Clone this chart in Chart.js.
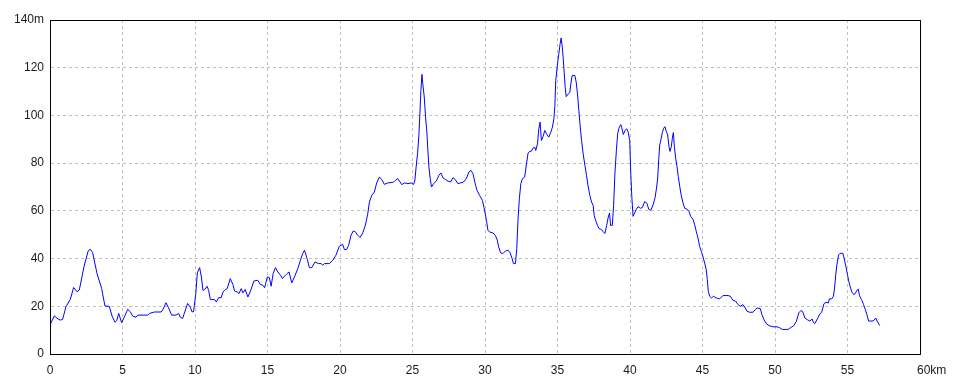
<!DOCTYPE html>
<html>
<head>
<meta charset="utf-8">
<script src="https://cdn.jsdelivr.net/npm/chart.js@4"></script>
<style>
  html, body { margin: 0; padding: 0; background: #fff; }
  #wrap { width: 960px; height: 384px; }
</style>
</head>
<body>
<div id="wrap"><canvas id="c" width="960" height="384"></canvas></div>
<script>
// Distance along the route (km)
const distanceKm = [
  0, 0.3, 0.48, 0.71, 0.87, 1.1, 1.4, 1.63, 1.86, 2.02, 2.37, 2.64, 2.78, 2.94, 3.24, 3.56, 3.79, 4.09, 4.28, 4.48,
  4.6, 4.74, 4.94, 5.13, 5.36, 5.54, 5.7, 5.93, 6.05, 6.74, 6.85, 7.2, 7.66, 7.77, 8.0, 8.16, 8.39, 8.69, 8.87, 8.99,
  9.15, 9.26, 9.49, 9.68, 9.79, 9.9,
  10.05, 10.16, 10.32, 10.44, 10.55, 10.67, 10.83, 10.94, 11.06, 11.35, 11.47, 11.63, 11.81, 11.93, 12.09, 12.22,
  12.43, 12.61, 12.73, 12.91, 13.03, 13.19, 13.3, 13.46, 13.65, 13.83, 14.06, 14.33, 14.5, 14.68, 14.8, 14.99,
  15.13, 15.25, 15.39, 15.55, 15.71, 15.9, 16.03, 16.17, 16.35, 16.49, 16.67, 16.86, 17.09, 17.27, 17.43, 17.55,
  17.73, 17.89, 18.05, 18.28, 18.51, 18.69, 18.81, 18.92, 19.27, 19.5, 19.72, 19.95,
  20.18, 20.3, 20.46, 20.6, 20.76, 20.92, 21.06, 21.22, 21.38, 21.57, 21.75, 21.91, 22.03, 22.19, 22.37, 22.53,
  22.72, 22.88, 23.06, 23.29, 23.69, 23.82, 23.99, 24.1, 24.26, 24.45, 24.68, 24.91, 25.07, 25.16, 25.25, 25.35,
  25.44, 25.51, 25.58, 25.65, 25.71, 25.81, 25.9, 25.99, 26.06, 26.13, 26.22, 26.31, 26.45, 26.64, 26.82, 26.96,
  27.1, 27.28, 27.44, 27.63, 27.79, 27.95, 28.13, 28.29, 28.53, 28.71, 28.89, 29.03, 29.17, 29.35, 29.45, 29.63,
  29.82, 29.93,
  30.02, 30.1, 30.2, 30.3, 30.55, 30.71, 30.85, 30.94, 31.08, 31.24, 31.41, 31.59, 31.73, 31.87, 31.96, 32.1,
  32.19, 32.28, 32.37, 32.47, 32.58, 32.74, 32.86, 32.97, 33.09, 33.2, 33.32, 33.43, 33.5, 33.62, 33.71, 33.8,
  33.89, 34.01, 34.12, 34.24, 34.4, 34.54, 34.65, 34.75, 34.82, 34.88, 35.0, 35.09, 35.18, 35.25, 35.32, 35.39,
  35.46, 35.53, 35.6, 35.74, 35.85, 35.92, 36.01, 36.2, 36.29, 36.38, 36.47, 36.57, 36.66, 36.77, 36.89, 37.0,
  37.12, 37.23, 37.35, 37.46, 37.53, 37.63, 37.76, 37.86, 38.04, 38.16, 38.27, 38.39, 38.5, 38.59, 38.66, 38.78,
  38.87, 38.96, 39.06, 39.15, 39.24, 39.36, 39.42, 39.54, 39.65, 39.77, 39.88, 39.98,
  40.05, 40.12, 40.21, 40.32, 40.44, 40.55, 40.71, 40.85, 41.01, 41.17, 41.29, 41.43, 41.59, 41.72, 41.82, 41.91,
  41.98, 42.05, 42.14, 42.23, 42.32, 42.41, 42.51, 42.6, 42.69, 42.76, 42.85, 42.92, 42.99, 43.06, 43.15, 43.24,
  43.33, 43.43, 43.54, 43.66, 43.77, 43.93, 44.07, 44.18, 44.34, 44.46, 44.57, 44.69, 44.8, 44.92, 45.03, 45.15,
  45.26, 45.33, 45.4, 45.49, 45.61, 45.77, 45.95, 46.18, 46.41, 46.76, 46.92, 47.1, 47.29, 47.45, 47.61, 47.79,
  47.91, 48.07, 48.25, 48.48, 48.64, 48.76, 48.99, 49.1, 49.24, 49.4, 49.59,
  49.86, 50.14, 50.32, 50.51, 50.9, 51.06, 51.3, 51.48, 51.64, 51.78, 51.9, 52.06, 52.22, 52.41, 52.55, 52.64,
  52.75, 52.92, 53.1, 53.22, 53.38, 53.52, 53.68, 53.75, 53.91, 54.03, 54.1, 54.19, 54.26, 54.38, 54.49, 54.68,
  54.77, 54.91, 55.0, 55.09, 55.19, 55.3, 55.42, 55.53, 55.65, 55.74, 55.83, 55.97, 56.11, 56.23, 56.34, 56.46,
  56.69, 56.81, 56.94, 57.04, 57.22
];

// Elevation (m)
const elevationM = [
  12.2, 16, 15, 14.2, 14.5, 19.8, 22.9, 27.9, 26.1, 26.8, 37.3, 43.3, 43.9, 42.5, 33.8, 27.5, 20.1, 20, 15.9, 13.3,
  14, 17, 13.1, 15.6, 18.7, 17.7, 15.9, 15.4, 16.3, 16.3, 17, 17.6, 17.6, 18.4, 21.5, 19.6, 16.3, 16.3, 17, 15.4,
  14.9, 17, 21.2, 19.6, 17.7, 17.7,
  25, 34, 36.2, 32.3, 26.7, 27, 28.4, 26.7, 22.8, 22.8, 21.8, 23.6, 23.6, 26, 27, 27.4,
  31.6, 29.2, 26.4, 26, 25.3, 27.4, 25.6, 27, 23.9, 26.4, 30.6, 30.9, 29.2, 28.8, 27.8, 32.3,
  32, 28.4, 33.7, 36.2, 34.4, 33, 31.6, 32.6, 33.7, 34.4, 29.8, 32.3, 35.8, 39.3, 42.1, 43.5,
  40, 36.2, 36.2, 38.6, 37.9, 37.9, 37.2, 37.9, 37.9, 39.3, 41.4, 45.1,
  46, 43.8, 43.8, 45.6, 49.8, 51.6, 51.2, 49.8, 48.8, 50.8, 54, 58.6, 63.7, 66.5, 67.9, 71.7,
  74.2, 73.1, 71.1, 71.7, 72, 72.8, 73.5, 72.5, 71, 71.7, 71.4, 71.7, 71.1, 72.5, 78.4, 84,
  91.7, 100.8, 110.5, 117.2, 113.3, 107.7, 99.4, 93.1, 85.4, 78.4, 73.5, 70, 71.4, 72.5, 74.9, 75.9,
  73.9, 73.1, 72.5, 72.1, 73.9, 73.1, 71.4, 71.7, 72.1, 73.5, 76.3, 77, 75.6, 70.7, 68.6, 66.5,
  64.4, 61.4,
  58.6, 56, 51.9, 51.2, 50.7, 49.8, 47.7, 44.9, 42.4, 42.1, 43.2, 43.5, 42.4, 40, 37.9, 37.9,
  44.2, 56.7, 65.1, 71.4, 73.5, 74.2, 79.7, 84.2, 85, 85, 86.4, 86.7, 85.3, 88.1, 94.4, 97.2,
  89.5, 91.2, 93.7, 92.3, 90.9, 93, 95.1, 98.6, 104.2, 114.6, 121.6, 125.8, 130, 132.5, 129.3, 124.4,
  118.1, 111.8, 107.9, 109, 109.7, 113.2, 116.7, 116.7, 113.9, 109, 102.1, 95.1, 89.5, 83.9, 79.1, 74.9,
  70, 66.5, 63.7, 62.3, 58.1, 56, 53.9, 52.6, 52.1, 51.2, 50.5, 53.9, 57.4, 59.1, 53.9, 53.9,
  62.3, 75.6, 85.3, 92.3, 94.7, 96.2, 95.1, 92, 93.7, 94.4, 93, 89.5,
  76.3, 66.5, 57.7, 59.1, 60.7, 61.8, 61.1, 61.4, 63.9, 63.2, 60.7, 60.2, 62.5, 65.3, 69.1, 73.7,
  81.4, 87.6, 90, 92.8, 94.6, 95.3, 93.2, 91.8, 86.9, 84.9, 86.9, 90.4, 92.8, 86.9, 82.1, 78.6,
  74.4, 70.2, 66.3, 63.2, 61.1, 60.7, 59.7, 57.7, 56.5, 54.2, 51.4, 48.6, 45.1, 43, 40.9, 38.1,
  35.3, 31.2, 26.3, 24.2, 23.5, 24.2, 23.5, 23.1, 24.5, 24.5, 24.2, 22.5, 22.1, 20.7, 20, 20.7,
  19.7, 17.9, 17.5, 17.5, 18.6, 19.3, 19, 16.5, 14.4, 12.7, 11.9,
  11.4, 11.4, 11, 10.3, 10.3, 11, 11.9, 13.8, 17.2, 18.2, 17.9, 15.1, 14.4, 13.8, 14.7, 13.3,
  12.8, 14.7, 16.9, 17.5, 21.1, 21.7, 21.4, 23.1, 23.1, 24.2, 27.2, 33.2, 36.9, 41.5, 42.2, 42.2,
  40.1, 36, 33.2, 30.4, 28.1, 26, 24.9, 25.3, 26.7, 27.2, 24.4, 22.8, 20.7, 18.6, 16.5, 13.8,
  13.8, 14, 15.1, 13.8, 11.9
];

// Axis ranges and tick steps
const xRange = [0, 60];
const xStep = 5;
const xUnit = 'km';
const yRange = [0, 140];
const yStep = 20;
const yUnit = 'm';

const points = distanceKm.map((d, i) => ({ x: d, y: elevationM[i] }));

const tickFont = { family: 'Liberation Sans', size: 12 };
const tickColor = '#1a1a1a';
const gridColor = '#c0c0c0';

const frame = {
  id: 'frame',
  afterDraw(chart) {
    const { ctx, chartArea: a } = chart;
    const l = Math.round(a.left - 0.5) + 0.5;
    const t = Math.round(a.top - 0.5) + 0.5;
    const r = Math.round(a.right - 0.5) + 0.5;
    const b = Math.round(a.bottom - 0.5) + 0.5;
    ctx.save();
    ctx.strokeStyle = '#000';
    ctx.lineWidth = 1;
    ctx.setLineDash([]);
    ctx.strokeRect(l, t, r - l, b - t);
    ctx.restore();
  }
};

new Chart(document.getElementById('c'), {
  type: 'line',
  data: {
    datasets: [{
      data: points,
      borderColor: '#0000ff',
      borderWidth: 1,
      pointRadius: 0,
      tension: 0,
      fill: false
    }]
  },
  options: {
    responsive: false,
    animation: false,
    events: [],
    layout: { padding: { left: 0, right: 40, top: 20, bottom: 0 } },
    plugins: { legend: { display: false }, tooltip: { enabled: false } },
    scales: {
      x: {
        type: 'linear',
        min: xRange[0],
        max: xRange[1],
        afterFit(s) { s.height = 30; },
        ticks: {
          stepSize: xStep,
          autoSkip: false,
          maxRotation: 0,
          padding: 9,
          font: tickFont,
          color: tickColor,
          callback: v => v === xRange[1] ? '       ' + v + xUnit : String(v)
        },
        grid: { color: gridColor, lineWidth: 1, drawTicks: false },
        border: { display: true, color: '#000', width: 1, dash: [3, 3] }
      },
      y: {
        min: yRange[0],
        max: yRange[1],
        afterFit(s) { s.width = 50; },
        ticks: {
          stepSize: yStep,
          padding: 6,
          font: tickFont,
          color: tickColor,
          callback: v => v === yRange[1] ? v + yUnit : String(v)
        },
        grid: { color: gridColor, lineWidth: 1, drawTicks: false },
        border: { display: true, color: '#000', width: 1, dash: [3, 3] }
      }
    }
  },
  plugins: [frame]
});
</script>
</body>
</html>
